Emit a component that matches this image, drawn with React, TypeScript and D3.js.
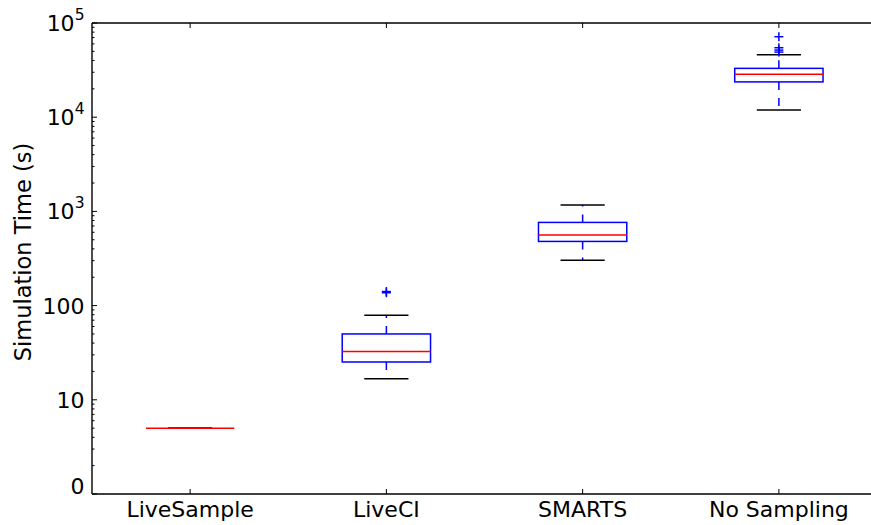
import React from "react";
import * as d3 from "d3";

const categories = ["LiveSample", "LiveCI", "SMARTS", "No Sampling"];
const whiskerLow = [5, 16.7, 303, 11900];
const q1 = [5, 25.2, 480, 23700];
const medians = [5, 32.6, 560, 28500];
const q3 = [5, 50, 764, 33000];
const whiskerHigh = [5, 79, 1167, 46000];
const outliers: number[][] = [[], [137, 141], [], [71500, 54600, 51600, 49100]];
const yTickValues = [1, 10, 100, 1000, 10000, 100000];
const yTickBase = ["0", "10", "100", "10", "10", "10"];
const yTickExp = ["", "", "", "3", "4", "5"];

const W = 871;
const H = 525;
const FONT = "DejaVu Sans, sans-serif";

export default function App() {
  const x = d3.scaleLinear().domain([0.5, 4.5]).range([92, 877]);
  const y = d3.scaleLog().domain([1, 1e5]).range([494, 23]);
  const unit = x(2) - x(1);
  const boxW = 0.45 * unit;
  const capW = boxW / 2;
  const blue = "#0000ff";
  const red = "#ff0000";
  const sw = 1.5;

  const minor: number[] = [];
  for (let e = 0; e < 5; e++) {
    for (let m = 2; m <= 9; m++) minor.push(m * Math.pow(10, e));
  }

  return (
    <svg width={W} height={H} style={{ position: "absolute", left: 0, top: 0, background: "#fff" }}>
      <rect x={0} y={0} width={W} height={H} fill="#fff" />
      {categories.map((c, i) => {
        const cx = x(i + 1);
        return (
          <g key={c}>
            <line x1={cx} x2={cx} y1={y(q1[i])} y2={y(whiskerLow[i])} stroke={blue} strokeWidth={sw} strokeDasharray="8,8" />
            <line x1={cx} x2={cx} y1={y(q3[i])} y2={y(whiskerHigh[i])} stroke={blue} strokeWidth={sw} strokeDasharray="8,8" />
            <line x1={cx - capW / 2} x2={cx + capW / 2} y1={y(whiskerLow[i])} y2={y(whiskerLow[i])} stroke="#000" strokeWidth={sw} />
            <line x1={cx - capW / 2} x2={cx + capW / 2} y1={y(whiskerHigh[i])} y2={y(whiskerHigh[i])} stroke="#000" strokeWidth={sw} />
            <rect x={cx - boxW / 2} y={y(q3[i])} width={boxW} height={y(q1[i]) - y(q3[i])} fill="none" stroke={blue} strokeWidth={sw} />
            <line x1={cx - boxW / 2} x2={cx + boxW / 2} y1={y(medians[i])} y2={y(medians[i])} stroke={red} strokeWidth={sw} />
            {outliers[i].map((v, j) => (
              <g key={j} stroke={blue} strokeWidth={sw}>
                <line x1={cx - 4.5} x2={cx + 4.5} y1={y(v)} y2={y(v)} />
                <line x1={cx} x2={cx} y1={y(v) - 4.5} y2={y(v) + 4.5} />
              </g>
            ))}
          </g>
        );
      })}
      <line x1={92} x2={W} y1={23} y2={23} stroke="#000" strokeWidth={1.4} />
      <line x1={92} x2={W} y1={494} y2={494} stroke="#000" strokeWidth={1.4} />
      <line x1={92} x2={92} y1={23} y2={494} stroke="#000" strokeWidth={1.4} />
      {yTickValues.map((v) => (
        <line key={"M" + v} x1={92} x2={97} y1={y(v)} y2={y(v)} stroke="#000" strokeWidth={1} />
      ))}
      {minor.map((v) => (
        <line key={"m" + v} x1={92} x2={94.5} y1={y(v)} y2={y(v)} stroke="#000" strokeWidth={1} />
      ))}
      {categories.map((c, i) => (
        <g key={"t" + c}>
          <line x1={x(i + 1)} x2={x(i + 1)} y1={494} y2={489} stroke="#000" strokeWidth={1} />
          <line x1={x(i + 1)} x2={x(i + 1)} y1={23} y2={28} stroke="#000" strokeWidth={1} />
        </g>
      ))}
      {yTickValues.map((v, i) => (
        <text key={"l" + v} x={84.5} y={y(v) + 8 - (i === 0 ? 8 : 0)} textAnchor="end" fontFamily={FONT} fontSize={22} fill="#000">
          {yTickBase[i]}
          {yTickExp[i] ? (
            <tspan fontSize={15.5} dy={-11.5}>{yTickExp[i]}</tspan>
          ) : null}
        </text>
      ))}
      {categories.map((c, i) => (
        <text key={"x" + c} x={x(i + 1)} y={517} textAnchor="middle" fontFamily={FONT} fontSize={22} fill="#000">
          {c}
        </text>
      ))}
      <text transform={`translate(31, 252) rotate(-90)`} textAnchor="middle" fontFamily={FONT} fontSize={22.5} fill="#000">
        Simulation Time (s)
      </text>
    </svg>
  );
}
